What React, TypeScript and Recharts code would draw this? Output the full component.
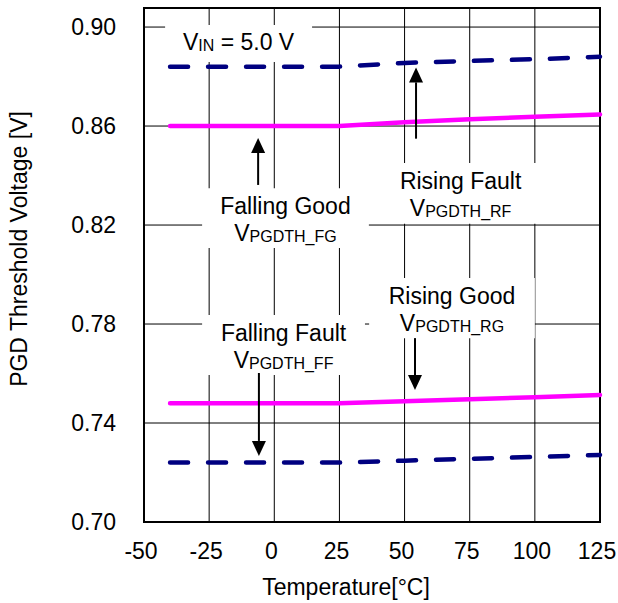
import React from "react";
import { LineChart, Line, XAxis, YAxis, CartesianGrid, ReferenceArea, ReferenceLine } from "recharts";

const temps = [-40, 0, 25, 50, 75, 100, 125];
const risingFault = [0.884, 0.884, 0.884, 0.8855, 0.8863, 0.887, 0.888];
const fallingGood = [0.86, 0.86, 0.86, 0.8615, 0.8627, 0.8638, 0.8647];
const risingGood = [0.748, 0.748, 0.748, 0.7488, 0.7496, 0.7504, 0.7513];
const fallingFault = [0.724, 0.724, 0.724, 0.7248, 0.7255, 0.7263, 0.7271];
const xTicks = [-50, -25, 0, 25, 50, 75, 100, 125];
const yTicks = [0.7, 0.74, 0.78, 0.82, 0.86, 0.9];

const data = temps.map((t, i) => ({
  t,
  rf: risingFault[i],
  fg: fallingGood[i],
  rg: risingGood[i],
  ff: fallingFault[i],
}));

const FONT = "'Liberation Sans', Arial, Helvetica, sans-serif";
const NAVY = "#000080";
const MAGENTA = "#FF00FF";
const FS = 23;
const SUB = 16;

// label boxes (data coords)
const boxes = [
  { x1: -27.7, x2: 36.3, y1: 0.8107, y2: 0.8349, title: "Falling Good", sub: "PGDTH_FG" },
  { x1: 40, x2: 103, y1: 0.8205, y2: 0.8451, title: "Rising Fault", sub: "PGDTH_RF" },
  { x1: -27.7, x2: 34.8, y1: 0.7594, y2: 0.7836, title: "Falling Fault", sub: "PGDTH_FF" },
  { x1: 36.4, x2: 100, y1: 0.7743, y2: 0.7986, title: "Rising Good", sub: "PGDTH_RG" },
];

// arrows: tail -> tip
const arrows = [
  { x: -6.2, from: 0.8362, to: 0.8552 },
  { x: 54.4, from: 0.8549, to: 0.8837 },
  { x: -5.9, from: 0.7602, to: 0.7267 },
  { x: 54, from: 0.7743, to: 0.7533 },
];

function boxLabel(title: string, sub: string) {
  return (props: any) => {
    const { x, y, width } = props.viewBox;
    const cx = x + width / 2;
    return (
      <g>
        <text x={cx} y={y + 26} textAnchor="middle" fontSize={FS} fontFamily={FONT} fill="#000">
          {title}
        </text>
        <text x={cx} y={y + 53} textAnchor="middle" fontFamily={FONT} fill="#000">
          <tspan fontSize={FS}>V</tspan>
          <tspan fontSize={SUB} dy={1}>{sub}</tspan>
        </text>
      </g>
    );
  };
}

const vinLabel = (props: any) => {
  const { x, y, width } = props.viewBox;
  return (
    <text x={x + width / 2} y={y + 25} textAnchor="middle" fontFamily={FONT} fill="#000">
      <tspan fontSize={FS}>V</tspan>
      <tspan fontSize={SUB} dy={1}>IN</tspan>
      <tspan fontSize={FS} dy={-1}> = 5.0 V</tspan>
    </text>
  );
};

const arrowShape = (props: any) => {
  const { x1, y1, x2, y2 } = props;
  const dir = y2 < y1 ? 1 : -1;
  const head = 15;
  const half = 7;
  return (
    <g>
      <line x1={x1} y1={y1} x2={x2} y2={y2 + dir * head} stroke="#000" strokeWidth={2} />
      <polygon
        points={`${x2},${y2} ${x2 - half},${y2 + dir * head} ${x2 + half},${y2 + dir * head}`}
        fill="#000"
      />
    </g>
  );
};

export default function App() {
  return (
    <div style={{ position: "absolute", left: 0, top: 0, background: "#fff" }}>
      <LineChart width={618} height={603} data={data} margin={{ top: 8, right: 18, bottom: 0, left: 0 }}>
        <CartesianGrid stroke="#000" strokeWidth={1} />
        <XAxis
          dataKey="t"
          type="number"
          domain={[-50, 125]}
          ticks={xTicks}
          height={81}
          axisLine={false}
          tickLine={false}
          tickSize={0}
          tickMargin={21}
          tick={{ fontSize: FS, fill: "#000", fontFamily: FONT, dx: -3 }}
          label={{
            content: () => (
              <text x={346} y={595} textAnchor="middle" fontSize={FS} fontFamily={FONT} fill="#000">
                Temperature[°C]
              </text>
            ),
          }}
        />
        <YAxis
          type="number"
          domain={[0.7, 0.9077]}
          ticks={yTicks}
          width={144}
          axisLine={false}
          tickLine={false}
          tickSize={0}
          tickMargin={28}
          tickFormatter={(v: number) => v.toFixed(2)}
          tick={{ fontSize: FS, fill: "#000", fontFamily: FONT }}
          label={{
            content: () => (
              <text
                x={27}
                y={249}
                transform="rotate(-90 27 249)"
                textAnchor="middle"
                fontSize={FS}
                fontFamily={FONT}
                fill="#000"
              >
                PGD Threshold Voltage [V]
              </text>
            ),
          }}
        />
        <ReferenceArea
          x1={-41.9}
          x2={14.5}
          y1={0.8859}
          y2={0.9008}
          fill="#fff"
          fillOpacity={1}
          stroke="none"
          label={{ content: vinLabel }}
        />
        {boxes.map((b) => (
          <ReferenceArea
            key={b.title}
            x1={b.x1}
            x2={b.x2}
            y1={b.y1}
            y2={b.y2}
            fill="#fff"
            fillOpacity={1}
            stroke="none"
            label={{ content: boxLabel(b.title, b.sub) }}
          />
        ))}
        <Line
          dataKey="rf"
          stroke={NAVY}
          strokeWidth={4.5}
          strokeDasharray="18 20"
          strokeLinecap="round"
          dot={false}
          isAnimationActive={false}
        />
        <Line dataKey="fg" stroke={MAGENTA} strokeWidth={4.5} strokeLinecap="round" dot={false} isAnimationActive={false} />
        <Line dataKey="rg" stroke={MAGENTA} strokeWidth={4.5} strokeLinecap="round" dot={false} isAnimationActive={false} />
        <Line
          dataKey="ff"
          stroke={NAVY}
          strokeWidth={4.5}
          strokeDasharray="18 20"
          strokeLinecap="round"
          dot={false}
          isAnimationActive={false}
        />
        {arrows.map((a, i) => (
          <ReferenceLine
            key={i}
            segment={[
              { x: a.x, y: a.from },
              { x: a.x, y: a.to },
            ]}
            shape={arrowShape}
          />
        ))}
        <ReferenceArea x1={-50} x2={125} y1={0.7} y2={0.9077} fill="none" stroke="#000" strokeWidth={2} />
      </LineChart>
    </div>
  );
}
